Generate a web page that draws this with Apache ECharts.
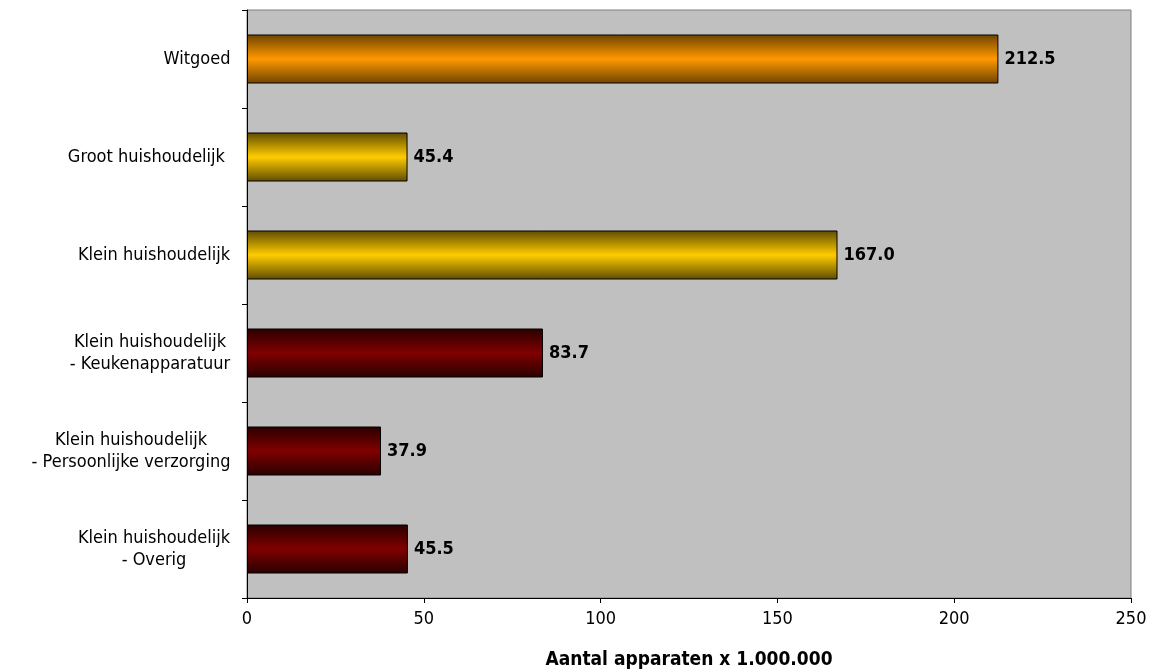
<!DOCTYPE html>
<html>
<head>
<meta charset="utf-8">
<script src="https://cdn.jsdelivr.net/npm/echarts@6/dist/echarts.min.js"></script>
<style>html,body{margin:0;padding:0;background:#fff}#c{width:1159px;height:670px}</style>
</head>
<body>
<div id="c"></div>
<script>
const categories = [
  "Witgoed",
  "Groot huishoudelijk ",
  "Klein huishoudelijk",
  "Klein huishoudelijk\n- Keukenapparatuur",
  "Klein huishoudelijk\n- Persoonlijke verzorging",
  "Klein huishoudelijk\n- Overig"
];
const values = [212.5, 45.4, 167.0, 83.7, 37.9, 45.5];
const colorGroups = ["orange", "yellow", "yellow", "red", "red", "red"];
const xTicks = [0, 50, 100, 150, 200, 250];
const xTitle = "Aantal apparaten x 1.000.000";

const FONT = "'DejaVu Sans Condensed', 'DejaVu Sans', sans-serif";
const LABEL_SIZE = 18;

const palettes = {
  orange: { edge: "#6e4200", mid: "#ff9900" },
  yellow: { edge: "#5e4c00", mid: "#ffcc00" },
  red:    { edge: "#2a0000", mid: "#800000" }
};
function grad(p) {
  return new echarts.graphic.LinearGradient(0, 0, 0, 1, [
    { offset: 0, color: p.edge },
    { offset: 0.5, color: p.mid },
    { offset: 1, color: p.edge }
  ]);
}

// measure text for centered multi-line labels
const cv = document.createElement('canvas').getContext('2d');
cv.font = LABEL_SIZE + "px " + FONT;
const rich = {};
categories.forEach((c, i) => {
  const w = Math.max(...c.split("\n").map(s => cv.measureText(s).width));
  rich["l" + i] = { width: Math.ceil(w) + 1, align: "center", fontSize: LABEL_SIZE, fontFamily: FONT, color: "#000", lineHeight: 22 };
});

const chart = echarts.init(document.getElementById('c'), null, { renderer: 'canvas' });
chart.setOption({
  animation: false,
  backgroundColor: "#ffffff",
  grid: { left: 247, right: 28, top: 10, bottom: 72, containLabel: false, outerBoundsMode: "none",
          show: true, backgroundColor: "#c0c0c0", borderColor: "#808080", borderWidth: 1 },
  xAxis: {
    type: "value", min: 0, max: 250, interval: 50,
    name: xTitle, nameLocation: "middle", nameGap: 53,
    nameTextStyle: { fontFamily: FONT, fontSize: 19, fontWeight: "bold", color: "#000" },
    axisLine: { show: true, lineStyle: { color: "#000", width: 1 } },
    axisTick: { show: true, length: 5, lineStyle: { color: "#000" } },
    axisLabel: { fontFamily: FONT, fontSize: LABEL_SIZE, color: "#000", margin: 12,
                 formatter: v => xTicks.includes(v) ? String(v) : "" },
    splitLine: { show: false }
  },
  yAxis: {
    type: "category", data: categories, inverse: true,
    axisLine: { show: true, lineStyle: { color: "#000", width: 1 } },
    axisTick: { show: true, length: 5, lineStyle: { color: "#000" } },
    axisLabel: {
      margin: 16, align: "right",
      formatter: (val, idx) => {
        const i = categories.indexOf(val);
        return val.split("\n").map(s => "{l" + i + "|" + s + "}").join("\n");
      },
      rich: rich
    },
    splitLine: { show: false }
  },
  series: [{
    type: "bar",
    barWidth: "50%",
    data: values.map((v, i) => ({
      value: v,
      itemStyle: { color: grad(palettes[colorGroups[i]]), borderColor: "#000", borderWidth: 1 }
    })),
    label: {
      show: true, position: "right", distance: 6,
      formatter: p => p.value.toFixed(1),
      fontFamily: FONT, fontSize: 18, fontWeight: "bold", color: "#000"
    }
  }]
});
</script>
</body>
</html>
